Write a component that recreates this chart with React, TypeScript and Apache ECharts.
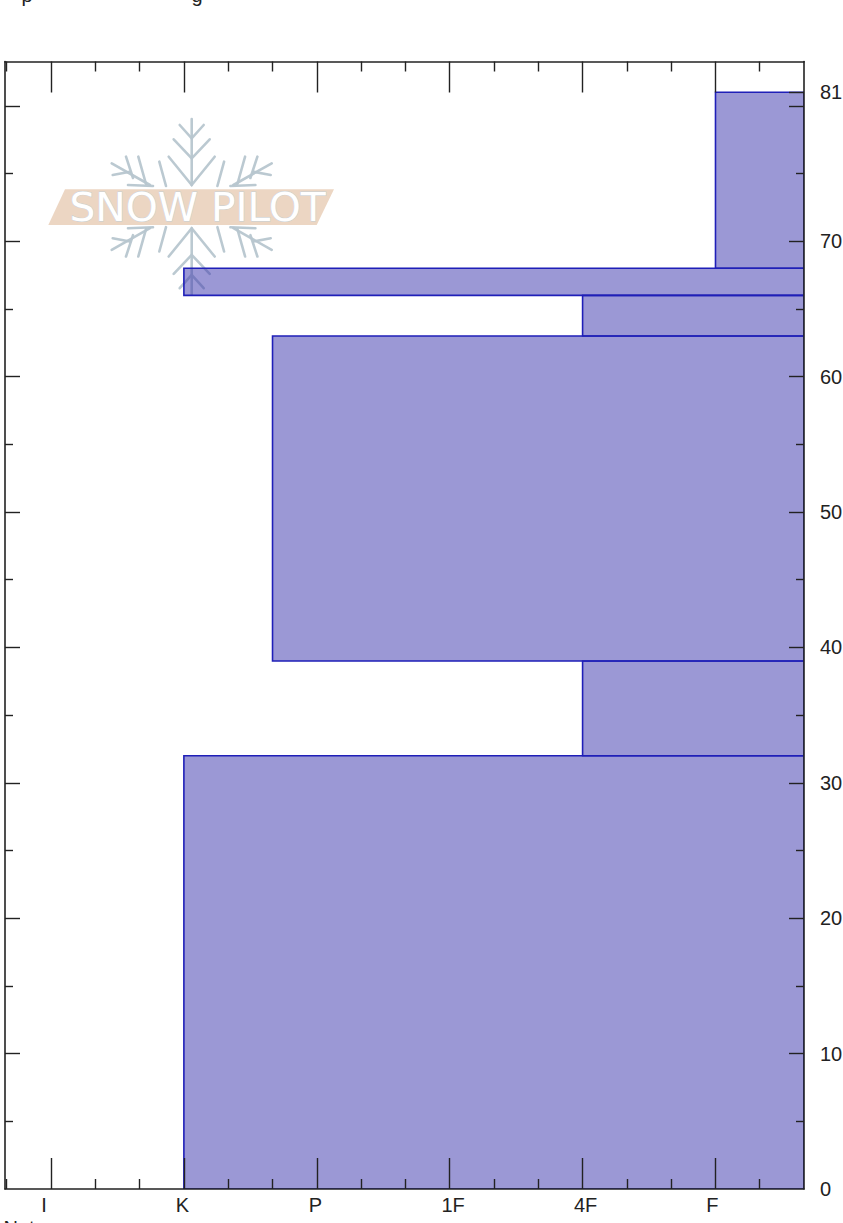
import React, { useEffect, useRef } from "react";
import * as echarts from "echarts";

const layerFrom = [0, 32, 39, 63, 66, 68];
const layerTo = [32, 39, 63, 66, 68, 81];
const layerHardness = [2, 5, 2.667, 5, 2, 6];

const hardnessLabels = ["I", "K", "P", "1F", "4F", "F"];
const hardnessLabelAt = [0.947, 1.989, 2.989, 4.026, 5.023, 5.977];
const hardnessLong = [1, 2, 3, 4, 5, 6];
const hardnessShort = [0.667, 1.333, 1.667, 2.333, 2.667, 3.333, 3.667, 4.333, 4.667, 5.333, 5.667, 6.333];
const depthLongRight = [10, 20, 30, 40, 50, 60, 70, 80, 81];
const depthLongLeft = [10, 20, 30, 40, 50, 60, 70, 80];
const depthShort = [5, 15, 25, 35, 45, 55, 65, 75];
const depthLabels = [0, 10, 20, 30, 40, 50, 60, 70, 81];

const xMin = 0.654;
const xMax = 6.666;
const yMin = 0;
const yMax = 83.27;
const ink = "#222222";
const font = "'Liberation Sans', Arial, sans-serif";
const labelSize = 20;

const flakeColor = "#b7c6cf";
// Logo artwork, in page pixels, as strokes around the flake's vertical axis.
const cx = 191.7;
const mirrorY = 194.3 * 2 + 24.6;
const armUp: number[][][] = [
  [[cx, 185], [cx, 119]],
  [[cx - 23, 156.7], [cx, 185], [cx + 23, 156.7]],
  [[cx - 18, 139.3], [cx, 158.3], [cx + 18, 139.3]],
  [[cx - 12, 125], [cx, 138.3], [cx + 12, 125]],
  [[159.3, 161.7], [166, 186]],
  [[150, 185], [111.7, 163.3]],
  [[138.3, 156.7], [146, 184]],
  [[126, 156.7], [133, 178]],
  [[112.7, 175], [130, 171.7]],
  [[128, 185], [153, 186]],
];

function flakeStrokes() {
  const out: number[][][] = [];
  armUp.forEach((pts, i) => {
    out.push(pts);
    out.push(pts.map(([x, y]) => [x, mirrorY - y]));
    if (i > 3) {
      out.push(pts.map(([x, y]) => [cx * 2 - x, y]));
      out.push(pts.map(([x, y]) => [cx * 2 - x, mirrorY - y]));
    }
  });
  return out;
}

export default function App() {
  const ref = useRef<HTMLDivElement>(null);
  useEffect(() => {
    if (!ref.current) return;
    const chart = echarts.init(ref.current, undefined, { renderer: "svg" });
    const hiddenLabel = { show: false };
    const mkAxis = (
      position: string,
      min: number,
      max: number,
      len: number,
      values: number[],
      label: any,
      showLine: boolean
    ) => ({
      type: "value",
      position,
      min,
      max,
      z: 5,
      splitLine: { show: false },
      axisLine: { show: showLine, onZero: false, lineStyle: { color: ink, width: 1.6 } },
      axisTick: { show: true, inside: true, length: len, customValues: values, lineStyle: { color: ink, width: 1.4 } },
      axisLabel: label,
    });
    const xLabel = {
      show: true,
      customValues: hardnessLabelAt,
      formatter: (v: number) => {
        let best = 0;
        hardnessLabelAt.forEach((p, i) => {
          if (Math.abs(p - v) < Math.abs(hardnessLabelAt[best] - v)) best = i;
        });
        return hardnessLabels[best];
      },
      showMinLabel: true,
      showMaxLabel: true,
      hideOverlap: false,
      color: ink,
      fontFamily: font,
      fontSize: labelSize,
      margin: 6,
    };
    const yLabel = {
      show: true,
      customValues: depthLabels,
      color: ink,
      fontFamily: font,
      fontSize: labelSize,
      margin: 16,
      formatter: (v: number) => String(Math.round(v)),
    };
    const flake = flakeStrokes().map((pts) => ({
      type: "polyline",
      z: 0,
      silent: true,
      shape: { points: pts },
      style: { stroke: flakeColor, lineWidth: 2.6, fill: "none" as any, lineCap: "round", opacity: 0.95 },
    }));
    chart.setOption({
      animation: false,
      grid: { left: 5, right: 39, top: 61.5, bottom: 34, containLabel: false, outerBoundsMode: "none" },
      xAxis: [
        mkAxis("bottom", xMin, xMax, 31, hardnessLong, xLabel, true),
        mkAxis("top", xMin, xMax, 31, hardnessLong, hiddenLabel, true),
        mkAxis("top", xMin, xMax, 10, hardnessShort, hiddenLabel, false),
        mkAxis("bottom", xMin, xMax, 10, hardnessShort, hiddenLabel, false),
      ],
      yAxis: [
        mkAxis("right", yMin, yMax, 15, depthLongRight, yLabel, true),
        mkAxis("left", yMin, yMax, 15, depthLongLeft, hiddenLabel, true),
        mkAxis("left", yMin, yMax, 8, depthShort, hiddenLabel, false),
        mkAxis("right", yMin, yMax, 8, depthShort, hiddenLabel, false),
      ],
      graphic: [
        ...flake,
        {
          type: "polygon",
          z: 1,
          silent: true,
          shape: { points: [[48.3, 225], [65, 189.3], [334, 189.3], [316.7, 225]] },
          style: { fill: "#ecd6c3" },
        },
        {
          type: "text",
          z: 1,
          silent: true,
          x: 197.5,
          y: 207.5,
          scaleX: 1.1,
          scaleY: 1.05,
          style: {
            text: "SNOW PILOT",
            fontFamily: "'DejaVu Sans', sans-serif",
            fontSize: 37,
            fill: "#ffffff",
            stroke: "#c6d0d6",
            lineWidth: 0.8,
            align: "center",
            verticalAlign: "middle",
          },
        },
        { type: "text", x: 21.5, y: 5, style: { text: "p", font: `${labelSize}px ${font}`, fill: ink, align: "left", verticalAlign: "bottom" } },
        { type: "text", x: 191.5, y: 5, style: { text: "g", font: `${labelSize}px ${font}`, fill: ink, align: "left", verticalAlign: "bottom" } },
        { type: "text", x: 3.5, y: 1218, style: { text: "Notes", font: `${labelSize}px ${font}`, fill: ink, align: "left", verticalAlign: "top" } },
      ],
      series: [
        {
          type: "custom",
          xAxisIndex: 0,
          yAxisIndex: 0,
          z: 2,
          clip: true,
          encode: { x: 0, y: [1, 2] },
          data: layerHardness.map((h, i) => [h, layerFrom[i], layerTo[i]]),
          renderItem: (_: any, api: any) => {
            const a = api.coord([api.value(0), api.value(1)]);
            const b = api.coord([xMax, api.value(2)]);
            return {
              type: "rect",
              shape: { x: a[0], y: b[1], width: b[0] - a[0], height: a[1] - b[1] },
              style: { fill: "rgba(55,49,171,0.5)", stroke: "#1f1fb8", lineWidth: 1.6 },
            };
          },
        },
      ],
    });
    return () => chart.dispose();
  }, []);
  return (
    <div
      ref={ref}
      style={{ position: "absolute", left: 0, top: 0, width: 843, height: 1223, background: "#fff", overflow: "hidden" }}
    />
  );
}
